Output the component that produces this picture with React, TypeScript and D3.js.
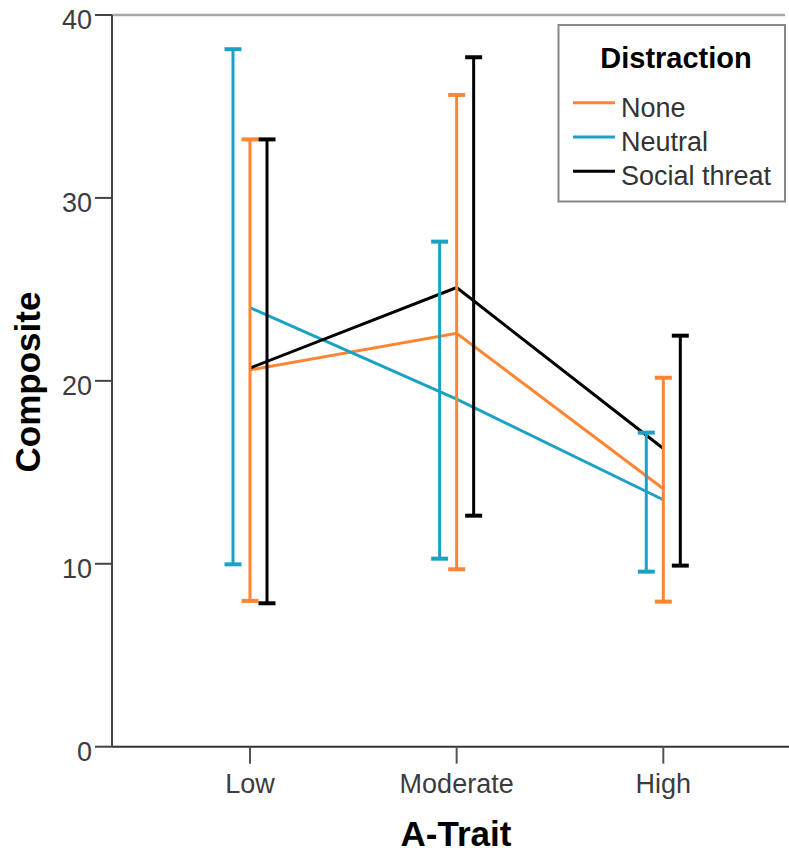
import React from "react";
import * as d3 from "d3";

// A-Trait groups on the x axis
const categories = ["Low", "Moderate", "High"];

// Distraction conditions
const seriesNames = ["None", "Neutral", "Social threat"];

// Group means per condition (Low, Moderate, High)
const meanNone = [20.6, 22.6, 14.1];
const meanNeutral = [24.0, 19.0, 13.5];
const meanSocial = [20.7, 25.1, 16.3];

// Error bar limits per condition
const lowerNone = [7.97, 9.7, 7.93];
const upperNone = [33.2, 35.63, 20.17];
const lowerNeutral = [9.97, 10.28, 9.57];
const upperNeutral = [38.13, 27.61, 17.17];
const lowerSocial = [7.84, 12.63, 9.9];
const upperSocial = [33.2, 37.69, 22.47];

const yTicks = [0, 10, 20, 30, 40];

const colors = ["#FF8533", "#1AA2C4", "#000000"];
const dodge = [0, -17, 17];

const W = 789;
const H = 854;
const left = 112;
const right = 785;
const top = 15;
const bottom = 746.7;

export default function App() {
  const x = d3.scalePoint<string>().domain(categories).range([250, 663.3]);
  const y = d3.scaleLinear().domain([0, 40]).range([bottom, top]);

  const means = [meanNone, meanNeutral, meanSocial];
  const lowers = [lowerNone, lowerNeutral, lowerSocial];
  const uppers = [upperNone, upperNeutral, upperSocial];

  const line = d3
    .line<number>()
    .x((_, i) => x(categories[i]) as number)
    .y((d) => y(d));

  const font = "'Liberation Sans', Arial, sans-serif";
  const capW = 8.5;

  return (
    <svg
      width={W}
      height={H}
      style={{ position: "absolute", left: 0, top: 0, background: "#fff" }}
      fontFamily={font}
    >
      {/* frame */}
      <line x1={left} x2={right} y1={top} y2={top} stroke="#a8a8a8" strokeWidth={2.5} />
      <line x1={left} x2={W} y1={bottom} y2={bottom} stroke="#333" strokeWidth={2} />
      <line x1={left} x2={left} y1={top} y2={bottom} stroke="#444" strokeWidth={2} />

      {/* y axis */}
      {yTicks.map((t) => (
        <g key={t}>
          <line x1={95} x2={left} y1={y(t)} y2={y(t)} stroke="#444" strokeWidth={2} />
          <text
            x={92}
            y={y(t) + 14}
            textAnchor="end"
            fontSize={27}
            fill="#3c3c3c"
          >
            {t}
          </text>
        </g>
      ))}

      {/* x axis */}
      {categories.map((c) => (
        <g key={c}>
          <line
            x1={x(c)}
            x2={x(c)}
            y1={bottom}
            y2={bottom + 17}
            stroke="#555"
            strokeWidth={2}
          />
          <text x={x(c)} y={793} textAnchor="middle" fontSize={27} fill="#3c3c3c">
            {c}
          </text>
        </g>
      ))}

      {/* axis titles */}
      <text x={456} y={846} textAnchor="middle" fontSize={35} fontWeight="bold" fill="#000">
        A-Trait
      </text>
      <text
        transform={`translate(40, 382) rotate(-90)`}
        textAnchor="middle"
        fontSize={35}
        fontWeight="bold"
        fill="#000"
      >
        Composite
      </text>

      {/* mean lines */}
      {means.map((m, s) => (
        <path
          key={"l" + s}
          d={line(m) || ""}
          fill="none"
          stroke={colors[s]}
          strokeWidth={3}
        />
      ))}

      {/* error bars */}
      {means.map((m, s) =>
        m.map((_, i) => {
          const cx = (x(categories[i]) as number) + dodge[s];
          const y0 = y(lowers[s][i]);
          const y1 = y(uppers[s][i]);
          return (
            <g key={"e" + s + i} stroke={colors[s]}>
              <line x1={cx} x2={cx} y1={y0} y2={y1} strokeWidth={3} />
              <line x1={cx - capW} x2={cx + capW} y1={y0} y2={y0} strokeWidth={4} />
              <line x1={cx - capW} x2={cx + capW} y1={y1} y2={y1} strokeWidth={4} />
            </g>
          );
        })
      )}

      {/* legend */}
      <g>
        <rect
          x={558.5}
          y={25}
          width={226.5}
          height={176.5}
          fill="#fff"
          stroke="#888"
          strokeWidth={2}
        />
        <text x={676} y={68} textAnchor="middle" fontSize={29} fontWeight="bold" fill="#000">
          Distraction
        </text>
        {seriesNames.map((n, i) => {
          const base = 116.7 + i * 34.3;
          return (
            <g key={n}>
              <line
                x1={573}
                x2={615}
                y1={base - 14}
                y2={base - 14}
                stroke={colors[i]}
                strokeWidth={3}
              />
              <text x={621} y={base} fontSize={27} fill="#333">
                {n}
              </text>
            </g>
          );
        })}
      </g>
    </svg>
  );
}
